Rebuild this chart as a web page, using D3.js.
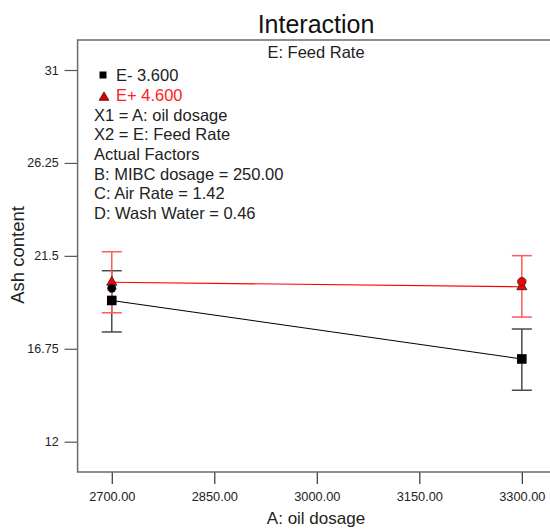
<!DOCTYPE html>
<html><head><meta charset="utf-8">
<script src="https://cdn.jsdelivr.net/npm/d3@7"></script>
<style>body{margin:0;background:#fff;} svg{display:block;font-family:"Liberation Sans",Arial,sans-serif;}</style>
</head><body>
<script>
const xTicks = [2700, 2850, 3000, 3150, 3300];
const yTicks = [12, 16.75, 21.5, 26.25, 31];
const levels = [2700, 3300];
const eMinus = [19.22, 16.23];
const eMinusLo = [17.61, 14.63];
const eMinusHi = [20.74, 17.76];
const ePlus = [20.15, 19.92];
const ePlusLo = [18.59, 18.37];
const ePlusHi = [21.71, 21.51];
const designMinus = [[2700, 19.84]];
const designPlus = [[3300, 20.18]];
const legendLines = ["X1 = A: oil dosage","X2 = E: Feed Rate","Actual Factors","B: MIBC dosage = 250.00","C: Air Rate = 1.42","D: Wash Water = 0.46"];

const W = 550, H = 531;
const svg = d3.select("body").append("svg").attr("width", W).attr("height", H);
const L = 77.6, R = 556, T = 40, B = 472;
const x = d3.scaleLinear().domain([2650, 3350]).range([L, R]);
const y = d3.scaleLinear().domain([10.451, 32.534]).range([B, T]);

// title
svg.append("text").attr("x", 316).attr("y", 33).attr("text-anchor", "middle")
  .attr("font-size", 25).attr("fill", "#111").text("Interaction");

// axes
const yAxis = svg.append("g").attr("transform", `translate(${L},0)`)
  .call(d3.axisLeft(y).tickValues(yTicks).tickSize(13).tickPadding(6).tickFormat(d => String(d)));
yAxis.select(".domain").remove();
yAxis.selectAll("line").attr("stroke", "#555").attr("stroke-width", 1.2);
yAxis.selectAll("text").attr("font-size", 12.5).attr("fill", "#222").attr("font-family", "Liberation Sans, Arial");

const xAxis = svg.append("g").attr("transform", `translate(0,${B})`)
  .call(d3.axisBottom(x).tickValues(xTicks).tickSize(12).tickPadding(8).tickFormat(d3.format(".2f")));
xAxis.select(".domain").remove();
xAxis.selectAll("line").attr("stroke", "#333").attr("stroke-width", 1.2);
xAxis.selectAll("text").attr("font-size", 12.8).attr("fill", "#222").attr("font-family", "Liberation Sans, Arial");

// frame
svg.append("path").attr("d", `M${R},${T}H${L}V${B}H${R}`).attr("fill", "none")
  .attr("stroke", "#6a6a6a").attr("stroke-width", 1.5);

// axis titles
svg.append("text").attr("x", 316).attr("y", 524).attr("text-anchor", "middle")
  .attr("font-size", 17).attr("fill", "#222").text("A: oil dosage");
svg.append("text").attr("transform", `translate(24,255) rotate(-90)`).attr("text-anchor", "middle")
  .attr("font-size", 18.5).attr("fill", "#222").text("Ash content");

svg.append("text").attr("x", 316).attr("y", 58).attr("text-anchor", "middle")
  .attr("font-size", 16.5).attr("fill", "#222").text("E: Feed Rate");

// legend
svg.append("rect").attr("x", 99.5).attr("y", 71.5).attr("width", 7).attr("height", 7).attr("fill", "#000");
svg.append("text").attr("x", 116).attr("y", 81).attr("font-size", 16.5).attr("fill", "#222").text("E- 3.600");
svg.append("path").attr("d", d3.symbol(d3.symbolTriangle, 40)()).attr("transform", "translate(104,97.5)")
  .attr("fill", "#e00000").attr("stroke", "#400").attr("stroke-width", 0.8);
svg.append("text").attr("x", 116).attr("y", 100.7).attr("font-size", 16.5).attr("fill", "#ff2020").text("E+ 4.600");
legendLines.forEach((t, i) => {
  svg.append("text").attr("x", 94).attr("y", 120.7 + i * 19.65).attr("font-size", 16.5).attr("fill", "#222").text(t);
});

// error bars
function errBars(lo, hi, col, width) {
  levels.forEach((lv, i) => {
    const cx = x(lv);
    svg.append("line").attr("x1", cx).attr("x2", cx).attr("y1", y(lo[i])).attr("y2", y(hi[i]))
      .attr("stroke", col).attr("stroke-width", width);
    [lo[i], hi[i]].forEach(v => {
      svg.append("line").attr("x1", cx - 10).attr("x2", cx + 10).attr("y1", y(v)).attr("y2", y(v))
        .attr("stroke", col).attr("stroke-width", 1.5);
    });
  });
}
errBars(eMinusLo, eMinusHi, "#4a4a4a", 1.5);
errBars(ePlusLo, ePlusHi, "#ff5a5a", 1.5);

// lines
const line = d3.line().x((d, i) => x(levels[i])).y(d => y(d));
svg.append("path").datum(eMinus).attr("d", line).attr("fill", "none").attr("stroke", "#000").attr("stroke-width", 1.1);
svg.append("path").datum(ePlus).attr("d", line).attr("fill", "none").attr("stroke", "#ff0000").attr("stroke-width", 1.1);

// markers
levels.forEach((lv, i) => {
  svg.append("rect").attr("x", x(lv) - 4.8).attr("y", y(eMinus[i]) - 4.8).attr("width", 9.6).attr("height", 9.6)
    .attr("fill", "#000");
  svg.append("path").attr("d", d3.symbol(d3.symbolTriangle, 45)()).attr("transform", `translate(${x(lv)},${y(ePlus[i])})`)
    .attr("fill", "#ff0000").attr("stroke", "#222").attr("stroke-width", 0.8);
});

// design points
designMinus.forEach(d => {
  svg.append("circle").attr("cx", x(d[0])).attr("cy", y(d[1])).attr("r", 4.2).attr("fill", "#000")
    .attr("stroke", "#222").attr("stroke-width", 1).attr("stroke-dasharray", "1.5,1");
});
designPlus.forEach(d => {
  svg.append("circle").attr("cx", x(d[0])).attr("cy", y(d[1])).attr("r", 4.2).attr("fill", "#ff0000")
    .attr("stroke", "#333").attr("stroke-width", 1);
});
</script>
</body></html>
